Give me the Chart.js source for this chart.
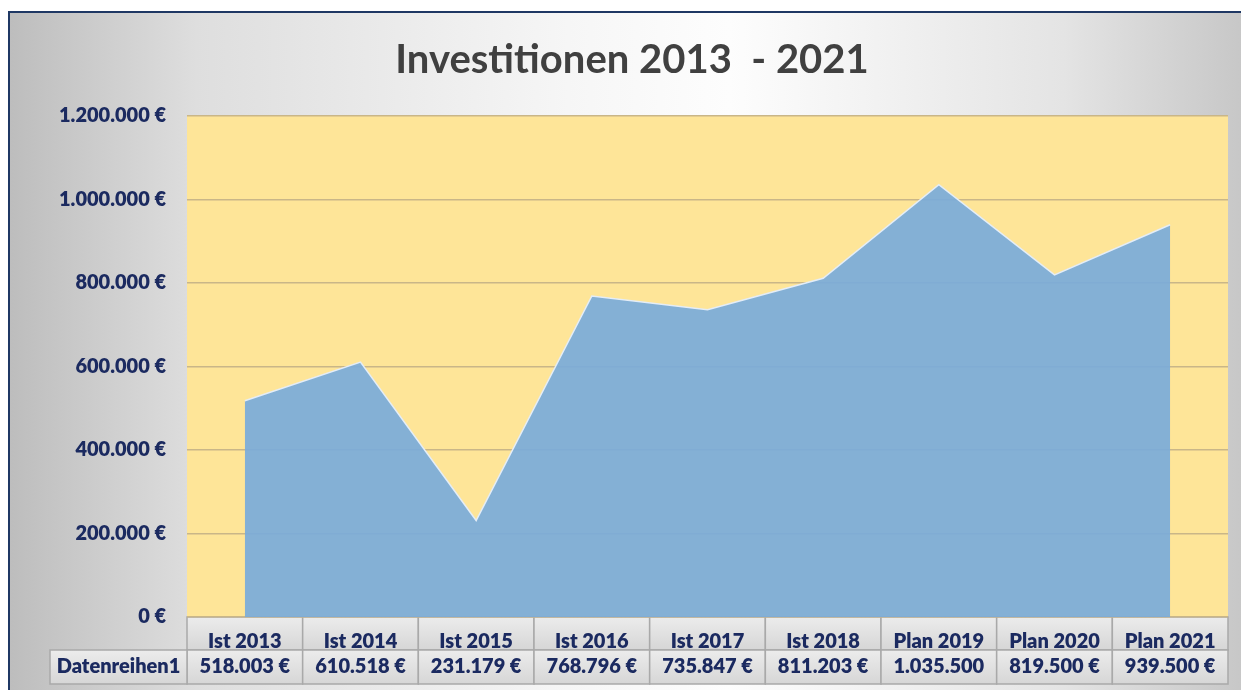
<!DOCTYPE html>
<html>
<head>
<meta charset="utf-8">
<script src="https://cdn.jsdelivr.net/npm/chart.js@4.4.1/dist/chart.umd.min.js"></script>
<style>
  html, body { margin: 0; padding: 0; background: #ffffff; width: 1241px; height: 690px; overflow: hidden; }
  #frame {
    position: absolute; left: 8px; top: 11px; width: 1240px; height: 690px;
    border-left: 2px solid #1f3864; border-top: 2px solid #1f3864;
    background: linear-gradient(to right, #bdbdbd 0%, #dedede 15%, #f6f6f6 45%, #fdfdfd 58%, #e4e4e4 85%, #c6c6c6 100%);
  }
  #c { position: absolute; left: 0; top: 0; }
</style>
</head>
<body>
<div id="frame"></div>
<canvas id="c" width="1241" height="690"></canvas>
<script>
const titleText = 'Investitionen 2013  - 2021';
const categories = ['Ist 2013', 'Ist 2014', 'Ist 2015', 'Ist 2016', 'Ist 2017', 'Ist 2018', 'Plan 2019', 'Plan 2020', 'Plan 2021'];
const values = [518003, 610518, 231179, 768796, 735847, 811203, 1035500, 819500, 939500];
const valueLabels = ['518.003 €', '610.518 €', '231.179 €', '768.796 €', '735.847 €', '811.203 €', '1.035.500', '819.500 €', '939.500 €'];
const seriesName = 'Datenreihen1';
const yMin = 0, yMax = 1200000, yStep = 200000;

const NAVY = '#1b2a60';
const FONT = 'Lato';
const TXT_W = '800';
const TXT_S = 20;

function euro(v) {
  return String(Math.round(v)).replace(/\B(?=(\d{3})+(?!\d))/g, '.') + ' €';
}

function cellFill(ctx, x, y, w, h) {
  const g = ctx.createLinearGradient(0, y, 0, y + h);
  g.addColorStop(0, '#ececec');
  g.addColorStop(1, '#d6d6d6');
  ctx.fillStyle = g;
  ctx.fillRect(x, y, w, h);
  ctx.strokeStyle = '#a9a9a9';
  ctx.lineWidth = 1.5;
  ctx.strokeRect(x, y, w, h);
}

const HEAD_H = 33, ROW_H = 34, ROW_LABEL_LEFT = 50;

const tablePlugin = {
  id: 'tablePlugin',
  beforeDraw(chart) {
    const { ctx, chartArea: a, scales: { x } } = chart;
    ctx.save();
    ctx.fillStyle = '#fee598';
    ctx.fillRect(a.left, a.top, a.right - a.left, a.bottom - a.top);
    const w = (a.right - a.left) / categories.length;
    categories.forEach((c, i) => {
      const cx = x.getPixelForValue(i);
      cellFill(ctx, cx - w / 2, a.bottom, w, HEAD_H);
      cellFill(ctx, cx - w / 2, a.bottom + HEAD_H, w, ROW_H);
    });
    cellFill(ctx, ROW_LABEL_LEFT, a.bottom + HEAD_H, a.left - ROW_LABEL_LEFT, ROW_H);
    ctx.restore();
  },
  afterDraw(chart) {
    const { ctx, chartArea: a, scales: { x } } = chart;
    ctx.save();
    ctx.fillStyle = NAVY;
    ctx.font = TXT_W + ' ' + TXT_S + 'px ' + FONT;
    ctx.textAlign = 'center';
    ctx.textBaseline = 'middle';
    const yMid = a.bottom + HEAD_H + ROW_H / 2;
    valueLabels.forEach((t, i) => {
      ctx.fillText(t, x.getPixelForValue(i), yMid);
    });
    ctx.fillText(seriesName, (ROW_LABEL_LEFT + a.left) / 2, yMid);
    // chart title
    ctx.fillStyle = '#404040';
    ctx.font = 'bold 40px ' + FONT;
    ctx.textBaseline = 'alphabetic';
    ctx.fillText(titleText, 632, 73);
    ctx.restore();
  }
};

new Chart(document.getElementById('c'), {
  type: 'line',
  data: {
    labels: categories,
    datasets: [{
      label: seriesName,
      data: values,
      fill: 'origin',
      backgroundColor: 'rgba(122,171,218,0.92)',
      borderColor: '#e4edf7',
      borderWidth: 1.5,
      pointRadius: 0,
      tension: 0
    }]
  },
  options: {
    responsive: false,
    animation: false,
    layout: { padding: { left: 0, right: 13, top: 116, bottom: 0 } },
    plugins: {
      legend: { display: false },
      tooltip: { enabled: false },
      title: { display: false }
    },
    scales: {
      x: {
        offset: true,
        grid: { display: false },
        border: { display: false },
        ticks: { color: NAVY, font: { family: FONT, size: TXT_S, weight: TXT_W }, padding: 5, maxRotation: 0, autoSkip: false },
        afterFit(s) { s.height = 73; }
      },
      y: {
        min: yMin, max: yMax,
        grid: { color: '#c9b688', lineWidth: 1.5, drawTicks: false },
        border: { display: false },
        ticks: { stepSize: yStep, color: NAVY, font: { family: FONT, size: TXT_S, weight: TXT_W }, padding: 21, callback: v => euro(v) },
        afterFit(s) { s.width = 187; }
      }
    }
  },
  plugins: [tablePlugin]
});
</script>
</body>
</html>
